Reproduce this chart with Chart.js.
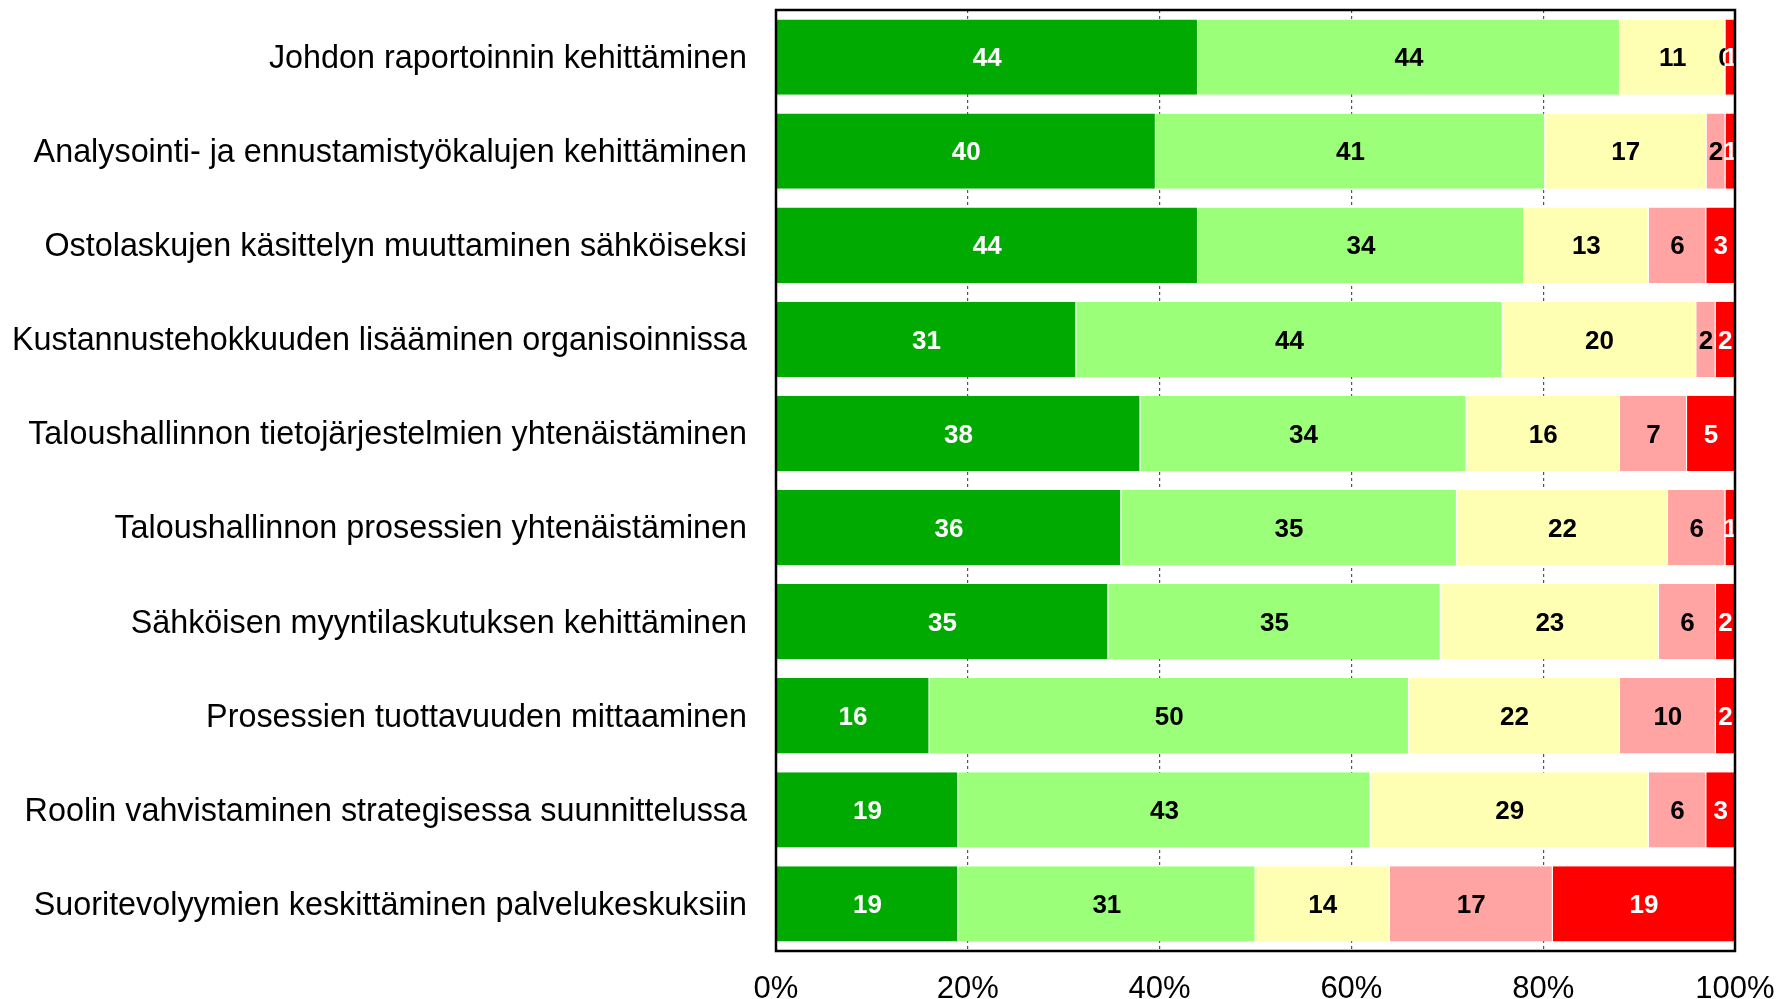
<!DOCTYPE html>
<html>
<head>
<meta charset="utf-8">
<script src="https://cdn.jsdelivr.net/npm/chart.js@4/dist/chart.umd.min.js"></script>
<style>
  html, body { margin: 0; padding: 0; background: #ffffff; }
  #wrap { width: 1779px; height: 999px; }
</style>
</head>
<body>
<div id="wrap"><canvas id="c" width="1779" height="999"></canvas></div>
<script>
const categories = [
  'Johdon raportoinnin kehittäminen',
  'Analysointi- ja ennustamistyökalujen kehittäminen',
  'Ostolaskujen käsittelyn muuttaminen sähköiseksi',
  'Kustannustehokkuuden lisääminen organisoinnissa',
  'Taloushallinnon tietojärjestelmien yhtenäistäminen',
  'Taloushallinnon prosessien yhtenäistäminen',
  'Sähköisen myyntilaskutuksen kehittäminen',
  'Prosessien tuottavuuden mittaaminen',
  'Roolin vahvistaminen strategisessa suunnittelussa',
  'Suoritevolyymien keskittäminen palvelukeskuksiin'
];
const level1 = [44, 40, 44, 31, 38, 36, 35, 16, 19, 19];
const level2 = [44, 41, 34, 44, 34, 35, 35, 50, 43, 31];
const level3 = [11, 17, 13, 20, 16, 22, 23, 22, 29, 14];
const level4 = [0, 2, 6, 2, 7, 6, 6, 10, 6, 17];
const level5 = [1, 1, 3, 2, 5, 1, 2, 2, 3, 19];
const xTickLabels = ['0%', '20%', '40%', '60%', '80%', '100%'];

const seriesList = [level1, level2, level3, level4, level5];
const seriesColors = ['#00aa00', '#9cff7a', '#ffffb3', '#ffa3a3', '#ff0000'];
const labelColors = ['#ffffff', '#000000', '#000000', '#000000', '#ffffff'];

// percent-stacked: each row normalised to 100
const rowSums = categories.map((_, i) => seriesList.reduce((s, arr) => s + arr[i], 0));
const datasets = seriesList.map((arr, k) => ({
  label: 'Taso ' + (k + 1),
  data: arr.map((v, i) => v / rowSums[i] * 100),
  backgroundColor: seriesColors[k],
  borderColor: '#ffffff',
  borderWidth: { top: 0, left: 0, bottom: 0, right: 1 },
  borderSkipped: false,
  barPercentage: 0.8,
  categoryPercentage: 1.0
}));

const FONT = '"Liberation Sans", Arial, Helvetica, sans-serif';

function noScalePadding(scale) {
  scale.paddingTop = 0;
  scale.paddingBottom = 0;
  scale.paddingLeft = 0;
  scale.paddingRight = 0;
}

const overlayPlugin = {
  id: 'overlay',
  afterDatasetsDraw(chart) {
    const ctx = chart.ctx;
    const ca = chart.chartArea;
    chart.data.datasets.forEach((ds, di) => {
      const meta = chart.getDatasetMeta(di);
      meta.data.forEach((el, i) => {
        const p = el.getProps(['x', 'y', 'base'], true);
        const right = Math.min(Math.max(p.x, p.base), ca.right);
        ctx.save();
        ctx.beginPath();
        ctx.rect(ca.left, ca.top, right - ca.left, ca.bottom - ca.top);
        ctx.clip();
        ctx.fillStyle = labelColors[di];
        ctx.font = 'bold 26px ' + FONT;
        ctx.textAlign = 'center';
        ctx.textBaseline = 'middle';
        ctx.fillText(String(seriesList[di][i]), (p.x + p.base) / 2, p.y + 2);
        ctx.restore();
      });
    });
    ctx.save();
    ctx.strokeStyle = '#000000';
    ctx.lineWidth = 2.5;
    ctx.strokeRect(ca.left, ca.top, ca.right - ca.left, ca.bottom - ca.top);
    ctx.restore();
  }
};

new Chart(document.getElementById('c'), {
  type: 'bar',
  data: { labels: categories, datasets: datasets },
  options: {
    indexAxis: 'y',
    responsive: false,
    animation: false,
    layout: { padding: { top: 10, right: 44, bottom: 0, left: 0 } },
    plugins: { legend: { display: false }, tooltip: { enabled: false } },
    scales: {
      x: {
        stacked: true,
        min: 0,
        max: 100,
        afterFit(scale) { scale.height = 48; noScalePadding(scale); },
        afterBuildTicks(scale) {
          scale.ticks = xTickLabels.map((t, i) => ({ value: i * 20 }));
        },
        grid: {
          display: true,
          drawTicks: false,
          color: '#555555',
          lineWidth: 1.2
        },
        border: { display: false, dash: [3, 3] },
        ticks: {
          padding: 20,
          color: '#000000',
          font: { family: FONT, size: 31 },
          maxRotation: 0,
          callback: (v, i) => xTickLabels[i]
        }
      },
      y: {
        stacked: true,
        afterFit(scale) { scale.width = 776; noScalePadding(scale); },
        grid: { display: false, drawTicks: false },
        border: { display: false },
        ticks: {
          padding: 29,
          labelOffset: 2,
          color: '#000000',
          font: { family: FONT, size: 32.35 }
        }
      }
    }
  },
  plugins: [overlayPlugin]
});
</script>
</body>
</html>
